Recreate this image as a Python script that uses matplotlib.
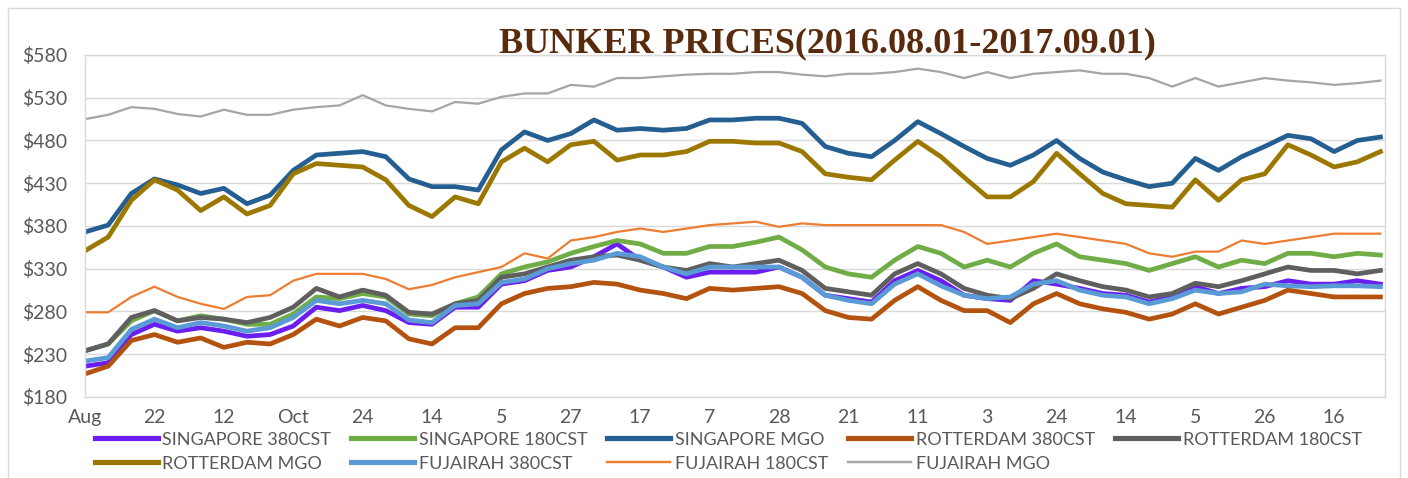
import matplotlib
matplotlib.use('Agg')
import matplotlib.pyplot as plt
import matplotlib.patches as mpatches
import numpy as np

# weekly readings (every 5 business days), Aug 1 2016 -> Sep 1 2017
sg_380 = [216, 220, 253, 265, 257, 261, 257, 251, 253, 263, 285, 281, 287, 281, 267,
          265, 285, 285, 312, 316, 328, 332, 344, 359, 340, 332, 320, 326, 326, 326,
          332, 320, 299, 295, 291, 316, 328, 316, 299, 295, 293, 316, 312, 307, 301,
          299, 291, 297, 309, 301, 307, 309, 316, 312, 312, 316, 312]
sg_180 = [234, 242, 269, 281, 269, 275, 271, 265, 265, 277, 297, 295, 301, 297, 277,
          275, 289, 297, 324, 332, 338, 348, 356, 363, 359, 348, 348, 356, 356, 361,
          367, 352, 332, 324, 320, 340, 356, 348, 332, 340, 332, 348, 359, 344, 340,
          336, 328, 336, 344, 332, 340, 336, 348, 348, 344, 348, 346]
sg_mgo = [373, 381, 418, 435, 428, 418, 424, 406, 416, 445, 463, 465, 467, 461, 435,
          426, 426, 422, 469, 490, 480, 488, 504, 492, 494, 492, 494, 504, 504, 506,
          506, 500, 473, 465, 461, 480, 502, 488, 473, 459, 451, 463, 480, 459, 443,
          434, 426, 430, 459, 445, 461, 473, 486, 482, 467, 480, 484]
rt_380 = [207, 216, 246, 253, 244, 249, 238, 244, 242, 253, 271, 263, 273, 269, 248,
          242, 261, 261, 289, 301, 307, 309, 314, 312, 305, 301, 295, 307, 305, 307,
          309, 301, 281, 273, 271, 293, 309, 293, 281, 281, 267, 289, 301, 289, 283,
          279, 271, 277, 289, 277, 285, 293, 305, 301, 297, 297, 297]
rt_180 = [234, 242, 273, 281, 269, 273, 271, 267, 273, 285, 307, 297, 305, 299, 279,
          277, 289, 293, 320, 324, 332, 340, 344, 346, 340, 332, 328, 336, 332, 336,
          340, 328, 307, 303, 299, 324, 336, 324, 307, 299, 295, 307, 324, 316, 309,
          305, 297, 301, 313, 309, 316, 324, 332, 328, 328, 324, 328]
rt_mgo = [351, 367, 410, 434, 422, 398, 414, 394, 404, 441, 453, 451, 449, 434, 404,
          391, 414, 406, 455, 471, 455, 475, 479, 457, 463, 463, 467, 479, 479, 477,
          477, 467, 441, 437, 434, 457, 479, 461, 437, 414, 414, 432, 465, 441, 418,
          406, 404, 402, 434, 410, 434, 441, 475, 463, 449, 455, 467]
fj_380 = [222, 226, 259, 271, 261, 267, 263, 257, 261, 273, 293, 289, 293, 289, 270,
          267, 287, 289, 314, 318, 330, 336, 340, 348, 344, 332, 324, 332, 332, 332,
          332, 320, 299, 293, 289, 312, 324, 310, 299, 295, 297, 312, 316, 305, 299,
          297, 289, 295, 305, 301, 303, 312, 310, 309, 310, 310, 309]
fj_180 = [279, 279, 297, 309, 297, 289, 283, 297, 299, 316, 324, 324, 324, 318, 306,
          311, 320, 326, 332, 348, 342, 363, 367, 373, 377, 373, 377, 381, 383, 385,
          379, 383, 381, 381, 381, 381, 381, 381, 373, 359, 363, 367, 371, 367, 363,
          359, 348, 344, 350, 350, 363, 359, 363, 367, 371, 371, 371]
fj_mgo = [505, 510, 519, 517, 511, 508, 516, 510, 510, 516, 519, 521, 533, 521, 517,
          514, 525, 523, 531, 535, 535, 545, 543, 553, 553, 555, 557, 558, 558, 560,
          560, 557, 555, 558, 558, 560, 564, 560, 553, 560, 553, 558, 560, 562, 558,
          558, 553, 543, 553, 543, 548, 553, 550, 548, 545, 547, 550]

series_names = ["SINGAPORE 380CST", "SINGAPORE 180CST", "SINGAPORE MGO",
                "ROTTERDAM 380CST", "ROTTERDAM 180CST", "ROTTERDAM MGO",
                "FUJAIRAH 380CST", "FUJAIRAH 180CST", "FUJAIRAH MGO"]
tick_labels = ["Aug", "22", "12", "Oct", "24", "14", "5", "27", "17", "7", "28",
               "21", "11", "3", "24", "14", "5", "26", "16"]

all_series = [sg_380, sg_180, sg_mgo, rt_380, rt_180, rt_mgo, fj_380, fj_180, fj_mgo]
colors = ["#6A1FF0", "#70AD47", "#255E91", "#B4530F", "#5F5F5F", "#9C7800",
          "#5B9BD5", "#ED7D31", "#A5A5A5"]
widths = [3.4, 3.4, 3.4, 3.4, 3.4, 3.4, 3.4, 1.6, 1.6]

plt.rcParams['font.family'] = ['Lato', 'DejaVu Sans']

fig = plt.figure(figsize=(14.08, 4.78), dpi=100)
ax = fig.add_axes([0.0604, 0.1695, 0.9233, 0.7155])

x = np.arange(len(sg_380)) * 5   # business-day index
for vals, name, c, lw in zip(all_series, series_names, colors, widths):
    ax.plot(x, vals, color=c, lw=lw, label=name, solid_joinstyle='round')

ax.set_xlim(0, 281)
ax.set_ylim(180, 580)
ax.set_yticks(np.arange(180, 581, 50))
ax.set_yticklabels(['$%d' % v for v in range(180, 581, 50)])
ax.set_xticks(np.arange(len(tick_labels)) * 15)
ax.set_xticklabels(tick_labels)
ax.tick_params(axis='both', length=0, labelsize=14, colors='#595959')
ax.tick_params(axis='y', pad=13)
ax.tick_params(axis='x', pad=9)
ax.grid(axis='y', color='#D9D9D9', lw=1)
ax.set_axisbelow(True)
for s in ax.spines.values():
    s.set_color('#D9D9D9')
    s.set_linewidth(1)

fig.text(0.588, 0.908, "BUNKER PRICES(2016.08.01-2017.09.01)", ha='center', va='center',
         fontsize=26, fontweight='bold', color='#5A2A0C', family='Liberation Serif')

# legend filled row by row like the original
h, l = ax.get_legend_handles_labels()
order = [0, 5, 1, 6, 2, 7, 3, 8, 4]
leg = fig.legend([h[i] for i in order], [l[i] for i in order], ncol=5,
                 loc='upper left', bbox_to_anchor=(0.062, 0.112), frameon=False,
                 fontsize=13, handlelength=3.5, handletextpad=0.25,
                 columnspacing=1.1, labelspacing=0.45, borderaxespad=0)
for t in leg.get_texts():
    t.set_color('#595959')
for line in leg.get_lines():
    line.set_linewidth(line.get_linewidth() * 1.1)

# outer chart border
fig.patches.append(mpatches.Rectangle((0.006, -0.01), 0.988, 0.994, transform=fig.transFigure,
                                      fill=False, edgecolor='#D9D9D9', lw=1))

plt.savefig("out.png", dpi=100)
